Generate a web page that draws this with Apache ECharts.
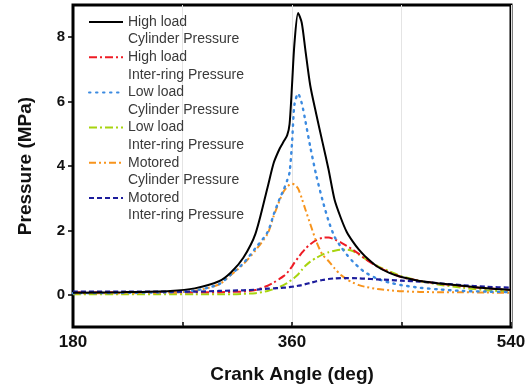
<!DOCTYPE html>
<html>
<head>
<meta charset="utf-8">
<script src="https://cdn.jsdelivr.net/npm/echarts@6/dist/echarts.min.js"></script>
<style>html,body{margin:0;padding:0;background:#fff;}#c{width:530px;height:391px;}</style>
</head>
<body>
<div id="c"></div>
<script>
const angles = [180,220,260,280,300,310,320,330,340,345,350,353,356,358,360,362,365,368,371,375,380,385,390,395,400,405,410,415,420,430,440,450,465,480,500,520,540];
const highCyl = [0.06,0.08,0.12,0.2,0.42,0.7,1.15,1.9,3.35,4.1,4.55,4.75,4.95,5.3,6.5,7.8,8.75,8.45,7.6,6.5,5.6,4.75,3.9,2.95,2.4,1.95,1.65,1.4,1.2,0.88,0.68,0.55,0.43,0.36,0.28,0.2,0.15];
const highRing = [0.08,0.08,0.08,0.08,0.08,0.09,0.1,0.15,0.28,0.38,0.5,0.58,0.68,0.78,0.88,1.0,1.15,1.3,1.43,1.57,1.7,1.77,1.78,1.72,1.63,1.52,1.4,1.27,1.12,0.88,0.7,0.55,0.43,0.35,0.27,0.2,0.15];
const lowCyl = [0.05,0.06,0.08,0.13,0.33,0.64,0.98,1.45,1.95,2.5,3.0,3.25,3.55,3.8,4.7,5.9,6.25,5.95,5.4,4.6,3.7,2.95,2.3,1.8,1.5,1.25,1.03,0.85,0.7,0.5,0.38,0.3,0.22,0.17,0.12,0.1,0.08];
const lowRing = [0.02,0.02,0.02,0.02,0.02,0.02,0.03,0.05,0.12,0.18,0.25,0.3,0.36,0.42,0.47,0.53,0.63,0.77,0.9,1.03,1.15,1.25,1.32,1.37,1.4,1.4,1.36,1.25,1.12,0.9,0.73,0.58,0.43,0.32,0.22,0.14,0.1];
const motCyl = [0.05,0.05,0.07,0.12,0.32,0.62,0.95,1.38,1.9,2.45,2.95,3.2,3.35,3.42,3.45,3.42,3.3,3.0,2.65,2.2,1.65,1.25,1.05,0.82,0.62,0.48,0.38,0.3,0.25,0.18,0.14,0.11,0.09,0.08,0.08,0.07,0.06];
const motRing = [0.1,0.1,0.1,0.1,0.12,0.13,0.14,0.16,0.19,0.2,0.21,0.22,0.23,0.24,0.25,0.26,0.28,0.3,0.33,0.37,0.42,0.46,0.49,0.51,0.52,0.52,0.52,0.51,0.5,0.48,0.46,0.44,0.41,0.36,0.3,0.25,0.22];
const seriesNames = ['High load\nCylinder Pressure','High load\nInter-ring Pressure','Low load\nCylinder Pressure','Low load\nInter-ring Pressure','Motored\nCylinder Pressure','Motored\nInter-ring Pressure'];
const xTickValues = [180,270,360,450,540];
const xLabelValues = [180,360,540];
const yTickValues = [0,2,4,6,8];

const valuesList = [highCyl, highRing, lowCyl, lowRing, motCyl, motRing];
const styles = [
  {color:'#000000', width:2, type:'solid'},
  {color:'#ee1c25', width:2, type:[8,3,2,3]},
  {color:'#3b8ae0', width:2.4, type:[1.5,5.5], cap:'round'},
  {color:'#a8d40f', width:2, type:[8,3,2,3]},
  {color:'#f7941d', width:2, type:[7,3,2,3,2,3]},
  {color:'#1c1c9c', width:2.2, type:[5,3]}
];
const drawOrder = [3,1,4,2,5,0];
const series = drawOrder.map(i => ({
  name: seriesNames[i],
  type: 'line',
  symbol: 'none',
  smooth: 0.25,
  z: 2 + drawOrder.indexOf(i),
  lineStyle: {color: styles[i].color, width: styles[i].width, type: styles[i].type, cap: styles[i].cap || 'butt'},
  itemStyle: {color: styles[i].color},
  data: angles.map((a, k) => [a, valuesList[i][k]])
}));

const chart = echarts.init(document.getElementById('c'), null, {renderer:'canvas'});
chart.setOption({
  animation: false,
  backgroundColor: '#ffffff',
  grid: {left:73, top:5, right:19, bottom:64, show:true, borderColor:'#000', borderWidth:3, backgroundColor:'transparent'},
  legend: {
    orient: 'vertical', left: 88, top: -4.4, padding: 0, itemGap: -17.6,
    itemWidth: 34, itemHeight: 10,
    data: seriesNames,
    formatter: n => '\n' + n,
    itemStyle: {opacity: 0, borderWidth: 0},
    textStyle: {fontFamily:'Liberation Sans, Arial, sans-serif', fontSize:14, lineHeight:17.6, color:'#3a3a3a'}
  },
  xAxis: {
    type:'value', min:180, max:540, interval:90,
    name:'Crank Angle (deg)', nameLocation:'middle', nameGap:38,
    nameTextStyle:{fontFamily:'Liberation Sans, Arial, sans-serif', fontSize:19, fontWeight:'bold', color:'#111'},
    axisLine:{show:true, onZero:false, lineStyle:{color:'#000', width:2}},
    axisTick:{show:true, inside:true, length:5, lineStyle:{color:'#000', width:1.5}, customValues: xTickValues},
    axisLabel:{margin:7, fontFamily:'Liberation Sans, Arial, sans-serif', fontSize:17, fontWeight:'bold', color:'#111', customValues: xLabelValues},
    splitLine:{show:true, lineStyle:{color:'#e4e4e4', width:1}}
  },
  yAxis: {
    type:'value', min:-1, max:9,
    name:'Pressure (MPa)', nameLocation:'middle', nameGap:38,
    nameTextStyle:{fontFamily:'Liberation Sans, Arial, sans-serif', fontSize:19, fontWeight:'bold', color:'#111'},
    axisLine:{show:true, onZero:false, lineStyle:{color:'#000', width:2}},
    axisTick:{show:true, inside:false, length:5, lineStyle:{color:'#000', width:1.5}, customValues: yTickValues},
    axisLabel:{margin:8, fontFamily:'Liberation Sans, Arial, sans-serif', fontSize:15, fontWeight:'bold', color:'#111', customValues: yTickValues},
    splitLine:{show:false}
  },
  series: series
});
</script>
</body>
</html>
